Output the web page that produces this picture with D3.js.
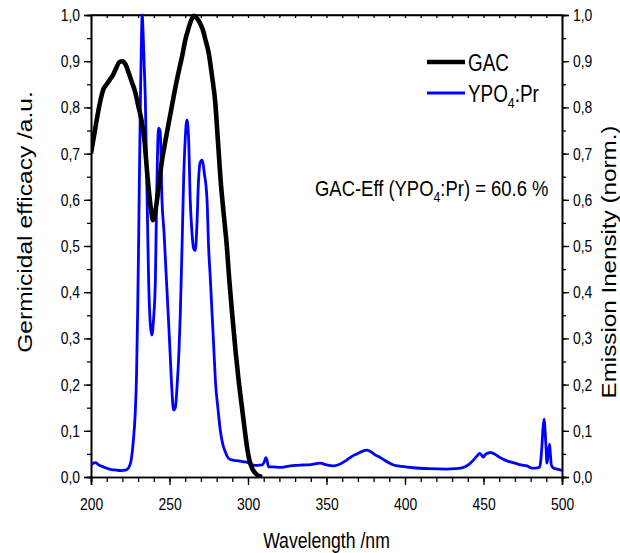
<!DOCTYPE html>
<html>
<head>
<meta charset="utf-8">
<script src="https://cdn.jsdelivr.net/npm/d3@7"></script>
<style>
  html, body { margin: 0; padding: 0; background: #fff; }
  svg { display: block; }
  text { font-family: "Liberation Sans", Arial, sans-serif; }
</style>
</head>
<body>
<svg id="chart" width="620" height="553"></svg>
<script>
// Germicidal action curve (GAC), normalised
const gacWavelength = [200,202,204,206,208,210,212,214,216,218,220,222,224,226,228,230,232,234,236,238,239.5,241,243,245,247,250,253,256,258,260,262,264,265.5,267,269,271,273,275,277,279,281,282.5,284.5,286.5,288,290,292,294,296,298,299.5,301,303,305,307,309];
const gacValue = [0.70,0.74,0.78,0.815,0.84,0.85,0.86,0.87,0.885,0.898,0.90,0.893,0.875,0.855,0.835,0.805,0.775,0.73,0.65,0.585,0.556,0.575,0.625,0.68,0.72,0.775,0.83,0.88,0.91,0.945,0.97,0.99,0.998,0.995,0.985,0.97,0.945,0.917,0.87,0.816,0.72,0.645,0.57,0.5,0.43,0.35,0.275,0.21,0.155,0.10,0.062,0.035,0.016,0.007,0.002,0.0];

// YPO4:Pr emission spectrum, normalised
const ypoWavelength = [200,201.5,203,205,207,210,213,216,219,222,224,225.5,227,228.2,229,229.7,230.3,230.8,231.5,232.2,232.6,233.1,233.8,234.6,235.5,236.7,237.8,238.8,239.8,241,241.8,242.5,243.1,244.1,245.2,246.5,248,249.5,250.5,251.5,252.6,253.7,254.8,256,256.9,258,259,260,261.1,262.2,263.2,264.3,265.3,266.4,267.4,268.5,269.5,270.7,272.2,273.9,274.9,276,277.1,278.2,279.2,280.8,282.4,284,285.5,287,288.7,291,294,297.2,300,302.5,306,309,310.5,311.4,312.2,313.1,316,320.6,325,330,335,340,346,350,354.5,358,363,366,369.4,373,375.8,378,381,384.3,388,392.7,398,405.5,415,426.7,432,437.3,441,443.7,446,447.5,448.7,449.7,451,454.3,457,460,464.9,470,474,477.7,480.9,483,485.7,486.6,487.2,488,488.7,489.3,489.8,490.4,491.2,492.1,492.7,493.2,494.7,497,500];
const ypoValue = [0.026,0.03,0.031,0.026,0.023,0.019,0.016,0.015,0.014,0.015,0.02,0.035,0.08,0.14,0.22,0.355,0.5,0.643,0.82,0.96,1.0,0.97,0.9,0.816,0.65,0.426,0.33,0.307,0.34,0.426,0.6,0.72,0.755,0.747,0.6,0.53,0.43,0.33,0.26,0.19,0.145,0.15,0.195,0.27,0.355,0.5,0.643,0.73,0.773,0.73,0.6,0.53,0.495,0.49,0.54,0.643,0.68,0.686,0.657,0.6,0.498,0.43,0.355,0.28,0.21,0.15,0.10,0.07,0.055,0.043,0.038,0.036,0.035,0.033,0.031,0.026,0.025,0.026,0.034,0.042,0.035,0.022,0.022,0.021,0.023,0.025,0.026,0.027,0.03,0.026,0.024,0.027,0.037,0.044,0.05,0.056,0.058,0.055,0.048,0.042,0.034,0.026,0.023,0.02,0.018,0.017,0.018,0.021,0.028,0.037,0.046,0.051,0.048,0.043,0.048,0.053,0.05,0.043,0.035,0.03,0.026,0.024,0.019,0.019,0.021,0.04,0.066,0.11,0.125,0.095,0.066,0.03,0.05,0.071,0.045,0.026,0.019,0.017,0.014];

const xTicks = [200,250,300,350,400,450,500];
const yTicks = [0,0.1,0.2,0.3,0.4,0.5,0.6,0.7,0.8,0.9,1.0];
const seriesNames = ["GAC", "YPO4:Pr"];
const annotationValue = 60.6;

const svg = d3.select("#chart");
const plot = { left: 91, right: 562, top: 15, bottom: 477 };
const SX = 0.82; // horizontal condensing of upright text

const x = d3.scaleLinear().domain([200, 500]).range([plot.left, plot.right]);
const yL = d3.scaleLinear().domain([0, 1]).range([plot.bottom, plot.top]);
const yR = d3.scaleLinear().domain([0, 1]).range([plot.bottom, plot.top]);

const commaFmt = v => d3.format(".1f")(v).replace(".", ",");
const minorX = d3.range(200, 501, 10);
const minorY = d3.range(0, 1.001, 0.05);

function styleAxis(g) {
  g.select(".domain").attr("stroke", "#000").attr("stroke-width", 1.6);
  g.selectAll(".tick line").attr("stroke", "#000").attr("stroke-width", 1.3);
  g.selectAll(".tick text").attr("fill", "#000").attr("font-size", 17)
    .each(function () {
      const t = d3.select(this);
      const x0 = +t.attr("x") || 0;
      t.attr("x", x0 / SX).attr("transform", `scale(${SX},1)`);
    });
}

// minor ticks
svg.append("g").attr("transform", `translate(0,${plot.bottom})`)
  .call(d3.axisBottom(x).tickValues(minorX).tickSize(5).tickFormat(""))
  .call(styleAxis);
svg.append("g").attr("transform", `translate(0,${plot.top})`)
  .call(d3.axisBottom(x).tickValues(minorX).tickSize(3).tickFormat("").tickSizeOuter(0))
  .call(styleAxis);
svg.append("g").attr("transform", `translate(${plot.left},0)`)
  .call(d3.axisLeft(yL).tickValues(minorY).tickSize(4).tickFormat(""))
  .call(styleAxis);
svg.append("g").attr("transform", `translate(${plot.right},0)`)
  .call(d3.axisRight(yR).tickValues(minorY).tickSize(4).tickFormat(""))
  .call(styleAxis);

// major ticks with labels
svg.append("g").attr("transform", `translate(0,${plot.bottom})`)
  .call(d3.axisBottom(x).tickValues(xTicks).tickSize(8).tickPadding(13).tickFormat(d3.format("d")))
  .call(styleAxis);
svg.append("g").attr("transform", `translate(${plot.left},0)`)
  .call(d3.axisLeft(yL).tickValues(yTicks).tickSize(7).tickPadding(4).tickFormat(commaFmt))
  .call(styleAxis);
svg.append("g").attr("transform", `translate(${plot.right},0)`)
  .call(d3.axisRight(yR).tickValues(yTicks).tickSize(7).tickPadding(4).tickFormat(commaFmt))
  .call(styleAxis);

// top frame line
svg.append("line").attr("x1", plot.left).attr("x2", plot.right).attr("y1", plot.top).attr("y2", plot.top)
  .attr("stroke", "#000").attr("stroke-width", 1.6);

// curves
svg.append("clipPath").attr("id", "plotClip")
  .append("rect").attr("x", plot.left).attr("y", plot.top - 3)
  .attr("width", plot.right - plot.left).attr("height", plot.bottom - plot.top + 3);

const gacLine = d3.line().x(d => x(d[0])).y(d => yL(d[1])).curve(d3.curveMonotoneX);
const ypoLine = d3.line().x(d => x(d[0])).y(d => yR(d[1])).curve(d3.curveMonotoneX);

svg.append("path")
  .datum(d3.zip(ypoWavelength, ypoValue))
  .attr("d", ypoLine)
  .attr("fill", "none").attr("stroke", "#0000ff").attr("stroke-width", 2.8)
  .attr("stroke-linejoin", "round")
  .attr("clip-path", "url(#plotClip)");

svg.append("path")
  .datum(d3.zip(gacWavelength, gacValue))
  .attr("d", gacLine)
  .attr("fill", "none").attr("stroke", "#000").attr("stroke-width", 4.6)
  .attr("stroke-linejoin", "round")
  .attr("clip-path", "url(#plotClip)");

// upright text, condensed horizontally about its anchor point
function label(px, py, size, anchor) {
  return svg.append("text")
    .attr("transform", `translate(${px},${py}) scale(${SX},1)`)
    .attr("text-anchor", anchor || "start")
    .attr("font-size", size).attr("fill", "#000");
}
function withSubscript(t, pre, sub, post, subSize) {
  t.append("tspan").text(pre);
  t.append("tspan").text(sub).attr("font-size", subSize).attr("dy", 6);
  t.append("tspan").text(post).attr("dy", -6);
}

// legend
const legendItems = [
  { name: seriesNames[0], color: "#000", width: 4.6, y: 62 },
  { name: seriesNames[1], color: "#0000ff", width: 2.8, y: 93 }
];
legendItems.forEach(it => {
  svg.append("line").attr("x1", 427).attr("x2", 465).attr("y1", it.y).attr("y2", it.y)
    .attr("stroke", it.color).attr("stroke-width", it.width);
  const t = label(468, it.y + 9, 23);
  const m = it.name.match(/^(YPO)(4)(:Pr)$/);
  if (m) withSubscript(t, m[1], m[2], m[3], 15);
  else t.text(it.name);
});

// efficiency annotation
withSubscript(label(315, 196, 22.5), "GAC-Eff (YPO", "4",
  `:Pr) = ${annotationValue.toFixed(1)} %`, 15);

// axis titles
label((plot.left + plot.right) / 2, 548, 21.5, "middle").text("Wavelength /nm");

svg.append("text")
  .attr("transform", `translate(31.5,222) rotate(-90) scale(1.17,1)`)
  .attr("text-anchor", "middle").attr("font-size", 21).attr("fill", "#000")
  .text("Germicidal efficacy /a.u.");

svg.append("text")
  .attr("transform", `translate(616,262) rotate(-90) scale(1.21,1)`)
  .attr("text-anchor", "middle").attr("font-size", 20).attr("fill", "#000")
  .text("Emission Inensity (norm.)");
</script>
</body>
</html>
